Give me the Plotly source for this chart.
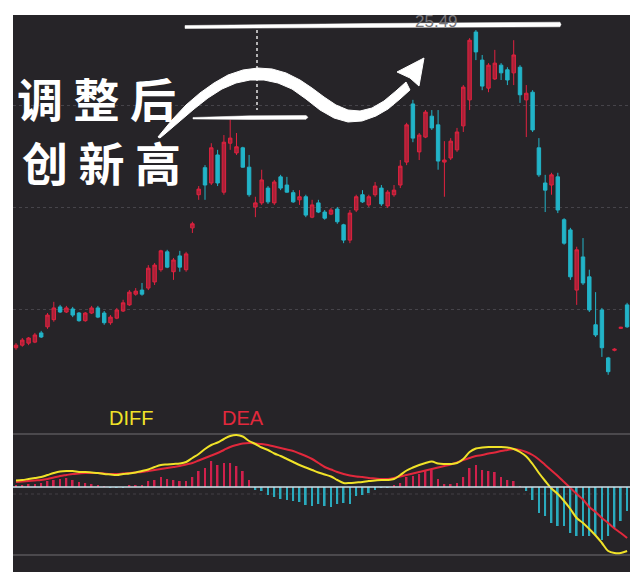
import plotly.graph_objects as go

# ---------------- data ----------------
idx = list(range(98))
open_ = [19.26,19.31,19.35,19.37,19.55,19.67,19.81,20.06,19.96,20.02,
         19.94,19.79,19.94,20.04,19.94,19.75,19.84,19.98,20.10,20.31,
         20.39,20.43,20.55,20.79,21.14,20.75,21.06,20.79,21.61,22.26,
         22.79,22.49,23.04,22.31,23.27,23.08,23.18,22.80,22.02,22.10,
         22.39,22.10,22.61,22.45,22.30,22.16,22.22,21.82,22.10,21.92,
         21.88,21.98,21.67,21.37,21.96,22.26,22.06,22.26,22.39,22.04,
         22.26,22.45,22.90,24.04,23.10,23.39,23.80,23.63,22.90,22.98,
         23.14,23.61,24.12,25.45,24.90,24.35,24.53,24.80,24.71,24.65,
         24.76,24.12,24.27,23.18,22.49,22.45,22.61,21.77,21.57,20.39,
         21.04,20.65,19.71,20.00,19.06,19.21,19.64,20.10]
high = [19.35,19.45,19.47,19.55,19.59,19.94,20.16,20.10,20.08,20.06,
        19.96,19.96,20.08,20.08,19.98,19.90,20.04,20.20,20.39,20.43,
        20.53,20.88,20.92,21.18,21.18,21.02,21.16,21.14,21.73,22.43,
        22.84,23.27,23.14,23.43,23.73,23.47,23.20,23.04,22.22,22.75,
        22.43,22.55,22.65,22.61,22.35,22.35,22.26,22.16,22.16,21.96,
        22.00,22.02,21.69,21.96,22.26,22.35,22.26,22.51,22.45,22.35,
        22.45,22.94,23.67,24.12,23.47,23.92,23.92,23.92,23.31,23.37,
        23.57,24.41,25.33,25.49,25.00,24.84,25.10,24.84,24.76,25.29,
        24.80,24.41,24.31,23.37,22.65,22.69,22.69,21.80,21.61,21.24,
        21.41,20.79,20.35,20.04,19.08,19.25,19.67,20.14]
low = [19.22,19.28,19.31,19.35,19.45,19.63,19.77,19.94,19.94,19.86,
       19.77,19.77,19.92,19.84,19.71,19.71,19.82,19.96,20.08,20.28,
       20.28,20.39,20.49,20.75,20.82,20.59,20.75,20.75,21.51,22.16,
       22.16,22.45,22.43,22.26,23.14,23.04,22.79,22.22,21.82,22.06,
       22.08,22.06,22.35,22.30,22.10,22.06,21.82,21.80,21.90,21.77,
       21.86,21.69,21.31,21.31,21.92,22.10,22.02,22.22,22.04,22.00,
       22.22,22.39,22.84,23.29,22.94,23.37,23.53,22.75,22.22,22.94,
       23.10,23.49,23.92,24.90,24.31,24.27,24.51,24.51,24.41,24.41,
       24.06,23.39,23.49,22.61,21.92,22.26,21.90,21.28,20.59,20.10,
       20.49,19.96,19.47,19.08,18.73,19.19,19.63,19.65]
close = [19.31,19.41,19.45,19.51,19.47,19.90,20.04,19.96,20.04,19.90,
         19.79,19.94,20.04,19.86,19.75,19.86,20.00,20.14,20.35,20.37,
         20.31,20.82,20.88,21.16,20.84,20.98,20.84,21.10,21.69,22.37,
         22.45,23.18,22.49,23.29,23.37,23.20,22.80,22.26,22.10,22.55,
         22.12,22.51,22.39,22.31,22.12,22.22,21.86,22.06,21.92,21.80,
         21.96,21.73,21.37,21.90,22.22,22.12,22.22,22.43,22.08,22.31,
         22.35,22.82,23.63,23.37,23.43,23.88,23.57,22.92,22.94,23.31,
         23.49,24.37,25.29,25.06,24.39,24.80,24.84,24.65,24.51,25.00,
         24.22,24.25,23.53,22.65,22.35,22.65,21.96,21.31,20.65,21.18,
         20.53,20.00,19.51,19.26,18.79,19.23,19.66,19.67]

diff = [0.065,0.07,0.08,0.09,0.10,0.12,0.14,0.155,0.16,0.16,
        0.15,0.15,0.145,0.14,0.13,0.125,0.12,0.13,0.135,0.145,
        0.16,0.175,0.20,0.22,0.225,0.23,0.235,0.25,0.29,0.33,
        0.38,0.42,0.445,0.48,0.51,0.52,0.505,0.46,0.43,0.395,
        0.37,0.335,0.31,0.28,0.25,0.22,0.195,0.17,0.145,0.125,
        0.105,0.07,0.04,0.04,0.045,0.05,0.06,0.065,0.07,0.07,
        0.08,0.12,0.165,0.195,0.22,0.24,0.255,0.235,0.23,0.23,
        0.24,0.28,0.35,0.385,0.395,0.40,0.40,0.40,0.395,0.38,
        0.35,0.305,0.23,0.14,0.06,-0.015,-0.07,-0.14,-0.22,-0.31,
        -0.36,-0.42,-0.485,-0.56,-0.64,-0.66,-0.66,-0.64]
dea = [0.05,0.055,0.06,0.065,0.07,0.08,0.095,0.11,0.12,0.13,
       0.135,0.14,0.14,0.14,0.135,0.13,0.13,0.135,0.14,0.145,
       0.15,0.16,0.17,0.18,0.19,0.20,0.21,0.225,0.24,0.265,
       0.29,0.315,0.34,0.37,0.40,0.42,0.435,0.44,0.435,0.43,
       0.42,0.405,0.39,0.375,0.36,0.335,0.31,0.28,0.24,0.20,
       0.175,0.15,0.13,0.115,0.105,0.10,0.09,0.085,0.08,0.08,
       0.09,0.105,0.12,0.135,0.15,0.165,0.18,0.195,0.21,0.225,
       0.245,0.27,0.29,0.31,0.32,0.335,0.345,0.36,0.37,0.38,
       0.37,0.35,0.32,0.275,0.22,0.165,0.11,0.05,-0.01,-0.07,
       -0.125,-0.20,-0.25,-0.31,-0.36,-0.415,-0.46,-0.51]
macd_hist = [0.02,0.02,0.03,0.03,0.04,0.06,0.07,0.08,0.09,0.07,
             0.05,0.04,0.03,0.02,0.01,-0.003,-0.005,-0.003,0.013,0.013,
             0.02,0.06,0.07,0.10,0.08,0.07,0.06,0.06,0.10,0.16,
             0.19,0.26,0.22,0.24,0.24,0.21,0.16,0.07,-0.03,-0.04,
             -0.08,-0.10,-0.12,-0.13,-0.14,-0.15,-0.18,-0.19,-0.17,-0.19,
             -0.20,-0.17,-0.16,-0.17,-0.09,-0.08,-0.06,-0.03,-0.01,-0.003,
             0.013,0.04,0.10,0.11,0.13,0.16,0.17,0.08,0.03,0.03,
             0.04,0.10,0.19,0.22,0.17,0.16,0.15,0.10,0.07,0.06,
             0.007,-0.04,-0.13,-0.26,-0.29,-0.36,-0.39,-0.39,-0.46,-0.49,
             -0.49,-0.49,-0.48,-0.53,-0.49,-0.41,-0.34,-0.24]
price_grid = [20, 22, 24]
high_label = "25.49"
title_lines = ["调 整 后", "创 新 高"]

# ---------------- styles ----------------
BG = "#262428"
RED = "#e0223f"
CYAN = "#22b4c8"
PAGE_OFF = 8                      # default body margin of the page
W, H = 640 - 2 * PAGE_OFF, 584 - 2 * PAGE_OFF
PL, PR, PT, PB = 13, 630, 15, 572  # plot box in window pixels
PW, PH = PR - PL, PB - PT
ML, MT = PL - PAGE_OFF, PT - PAGE_OFF
MR, MB = W - ML - PW, H - MT - PH


def fx(x):
    return (x - PL) / PW


def fy(y):
    return (PB - y) / PH


split = fy(400)

fig = go.Figure()
fig.add_trace(go.Candlestick(
    x=idx, open=open_, high=high, low=low, close=close,
    increasing=dict(line=dict(color=RED, width=1), fillcolor="rgba(215,32,62,0.75)"),
    decreasing=dict(line=dict(color=CYAN, width=1), fillcolor=CYAN),
    whiskerwidth=0, hoverinfo="skip", showlegend=False, xaxis="x", yaxis="y"))

fig.add_trace(go.Bar(
    x=idx, y=macd_hist, width=0.28,
    marker=dict(color=["#d0204c" if v >= 0 else "#2aaabd" for v in macd_hist], line=dict(width=0)),
    hoverinfo="skip", showlegend=False, xaxis="x", yaxis="y2"))
fig.add_trace(go.Scatter(x=idx, y=dea, mode="lines", line=dict(color="#e2283c", width=2, shape="spline"),
                         hoverinfo="skip", showlegend=False, xaxis="x", yaxis="y2"))
fig.add_trace(go.Scatter(x=idx, y=diff, mode="lines", line=dict(color="#f0e228", width=2, shape="spline"),
                         hoverinfo="skip", showlegend=False, xaxis="x", yaxis="y2"))

shapes = []
for v, c, d, wd in [(0.53, "#58565a", "solid", 1.5), (-0.68, "#58565a", "solid", 1.5),
                    (-0.07, "#423f44", "dot", 1), (0, "#cfe2ea", "solid", 1.6)]:
    shapes.append(dict(type="line", xref="paper", yref="y2", x0=0, x1=1, y0=v, y1=v,
                       line=dict(color=c, width=wd, dash=d), layer="below" if v != 0 else "above"))


def path(points, close_it=True):
    s = "M " + " L ".join(f"{fx(x):.4f},{fy(y):.4f}" for x, y in points)
    return s + (" Z" if close_it else "")


upper = [(158, 137), (172, 120), (186, 105), (200, 93), (214, 83), (228, 75), (243, 70), (258, 68),
         (272, 69), (286, 73), (300, 80), (312, 88), (324, 97), (336, 105), (348, 110), (360, 111),
         (372, 108), (384, 101), (396, 91), (406, 82)]
lower = [(410, 90), (400, 99), (388, 109), (376, 116), (362, 121), (348, 122), (334, 118),
         (320, 110), (306, 99), (292, 89), (278, 83), (264, 80), (250, 80), (236, 83), (222, 89),
         (208, 98), (194, 109), (180, 121), (166, 133), (160, 138)]
shapes.append(dict(type="path", xref="paper", yref="paper", path=path(upper + lower),
                   fillcolor="white", line=dict(color="white", width=1)))
shapes.append(dict(type="path", xref="paper", yref="paper",
                   path=path([(397, 72), (424, 58), (419, 86), (410, 78)]),
                   fillcolor="white", line=dict(color="white", width=1)))
shapes.append(dict(type="path", xref="paper", yref="paper",
                   path=path([(185, 25.5), (370, 23.5), (560, 22.2), (561, 24.5), (560, 26.8),
                              (370, 27.5), (185, 28.5)]),
                   fillcolor="white", line=dict(color="white", width=0.5)))
shapes.append(dict(type="path", xref="paper", yref="paper",
                   path=path([(193, 117.5), (250, 115.8), (306, 115.5), (308, 117.3), (306, 119.3),
                              (250, 119.5), (193, 119.0)]),
                   fillcolor="white", line=dict(color="white", width=0.5)))
shapes.append(dict(type="line", xref="paper", yref="paper", x0=fx(257), x1=fx(257), y0=fy(30), y1=fy(110),
                   line=dict(color="white", width=1.3, dash="3px,3px")))


def label(text, x, y, size, color, family, weight="normal"):
    return dict(text=text, x=fx(x), y=fy(y), xref="paper", yref="paper", showarrow=False,
                xanchor="center", yanchor="middle",
                font=dict(family=family, size=size, color=color, weight=weight))


annotations = [
    label(title_lines[0], 96, 97, 46, "white", "Noto Sans CJK SC", "bold"),
    label(title_lines[1], 101, 161, 46, "white", "Noto Sans CJK SC", "bold"),
    label("DIFF", 131, 418, 20, "#f0e228", "Liberation Sans"),
    label("DEA", 243, 418, 20, "#e2283c", "Liberation Sans"),
    label(high_label, 436, 21, 17, "#77767a", "Liberation Sans"),
]

fig.update_layout(
    width=W, height=H, margin=dict(l=ML, r=MR, t=MT, b=MB),
    paper_bgcolor="white", plot_bgcolor=BG, showlegend=False, boxgap=0.22,
    xaxis=dict(range=[(PL - 16) / 6.3, (PR - 16) / 6.3], showgrid=False, zeroline=False,
               showticklabels=False, ticks="", rangeslider=dict(visible=False), fixedrange=True),
    yaxis=dict(domain=[split, 1], range=[26.078 - 400 / 51, 26.078 - 15 / 51],
               tickvals=price_grid, showticklabels=False, ticks="", gridcolor="#46444a",
               griddash="dot", gridwidth=1, zeroline=False),
    yaxis2=dict(domain=[0, split], range=[-0.85, 0.87], showgrid=False, zeroline=False,
                showticklabels=False, ticks=""),
    shapes=shapes, annotations=annotations,
)

fig.write_html("out.html")
